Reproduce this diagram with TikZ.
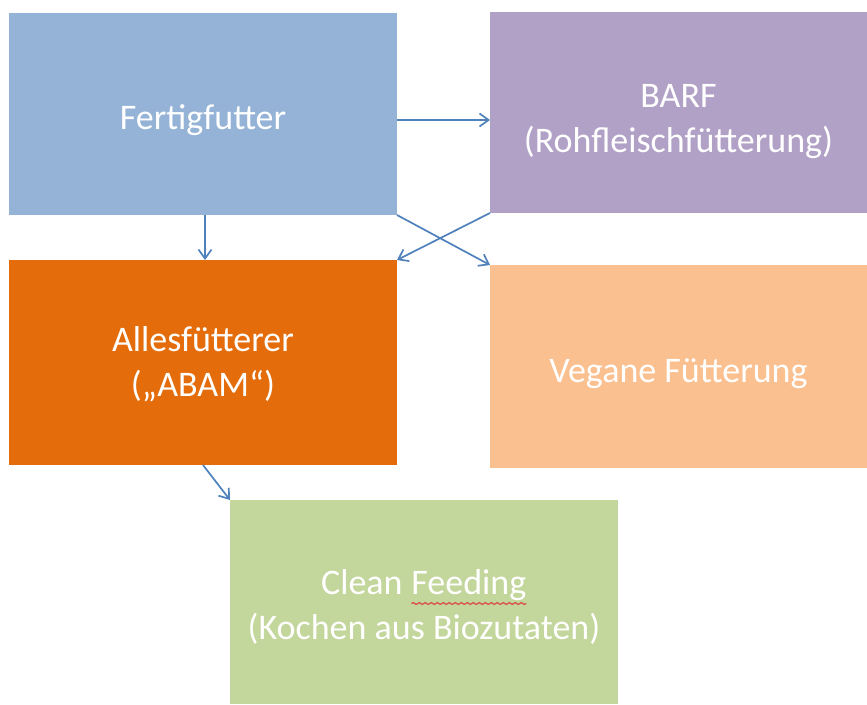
\documentclass[tikz,border=0pt]{standalone}
\usepackage{fontspec}
\setmainfont{Carlito}
\usetikzlibrary{arrows.meta,decorations.pathmorphing}
\definecolor{cblue}{HTML}{95B3D7}
\definecolor{cpurple}{HTML}{B2A1C7}
\definecolor{corange}{HTML}{E46C0A}
\definecolor{clight}{HTML}{FAC090}
\definecolor{cgreen}{HTML}{C3D69B}
\definecolor{carrow}{HTML}{4F81BD}
\definecolor{csquig}{HTML}{D9534A}
\newcommand{\squigword}[1]{\begin{tikzpicture}[baseline=(sw.base),x=1pt,y=1pt]
  \node[inner sep=0pt,outer sep=0pt,minimum width=0pt,minimum height=0pt,fill=none,draw=none] (sw) {#1};
  \draw[csquig,line width=1.3pt,decorate,decoration={snake,amplitude=0.9pt,segment length=6pt}]
    ([yshift=-9pt]sw.base west) -- ([yshift=-9pt]sw.base east);
\end{tikzpicture}}
\begin{document}
\begin{tikzpicture}[x=1pt,y=-1pt,
  box/.style={draw=none,inner sep=0pt,outer sep=0pt,anchor=north west},
  lbl/.style={inner sep=0pt,outer sep=0pt,text=white,align=center,font=\fontsize{36}{45}\selectfont},
  conn/.style={draw=carrow,line width=1.7pt,-{Straight Barb[length=9pt,width=13pt,line width=1.7pt]}}]
\useasboundingbox (0,0) rectangle (867,704);
\fill[white] (0,0) rectangle (867,704);
\node[box,fill=cblue,minimum width=388pt,minimum height=202pt] (fert) at (9,13) {};
\node[box,fill=cpurple,minimum width=377pt,minimum height=201pt] (barf) at (490,12) {};
\node[box,fill=corange,minimum width=388pt,minimum height=205pt] (alles) at (9,260) {};
\node[box,fill=clight,minimum width=377pt,minimum height=203pt] (vegan) at (490,265) {};
\node[box,fill=cgreen,minimum width=388pt,minimum height=204pt] (clean) at (230,500) {};
\node[lbl,yshift=-6pt] (tfert) at (fert.center) {Fertigfutter};
\node[lbl,yshift=-9pt] (tbarf) at (barf.center) {BARF\\(Rohfleischfütterung)};
\node[lbl,yshift=-2pt] (talles) at (alles.center) {Allesfütterer\\(„ABAM“)};
\node[lbl,yshift=-7pt] (tvegan) at (vegan.center) {Vegane Fütterung};
\node[lbl,yshift=-5pt] (tclean) at (clean.center) {Clean \squigword{Feeding}\\(Kochen aus Biozutaten)};
\draw[conn] (fert.east |- 0,120) -- (barf.west |- 0,120);
\draw[conn] (fert.south -| 205,0) -- (alles.north -| 205,0);
\draw[conn] (fert.south east) -- (vegan.north west);
\draw[conn] (barf.south west) -- (alles.north east);
\draw[conn] (alles.south -| 203,0) -- (clean.north west);
\end{tikzpicture}
\end{document}
